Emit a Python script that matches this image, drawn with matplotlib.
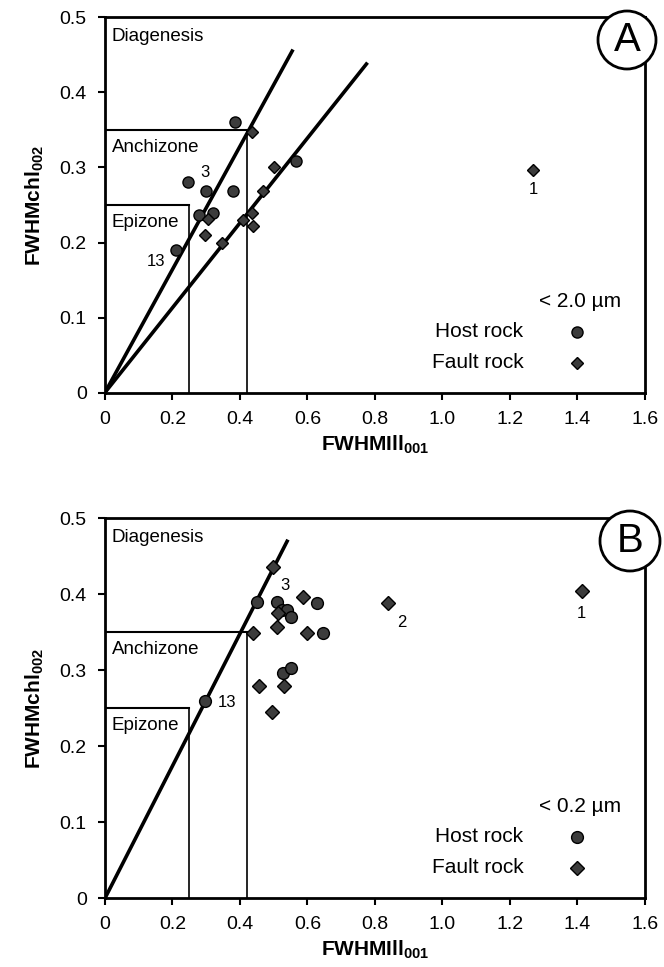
import numpy as np
import matplotlib
matplotlib.use("Agg")
import matplotlib.pyplot as plt
from matplotlib.patches import Circle

plt.rcParams.update({
    "font.family": ["Liberation Sans", "DejaVu Sans"],
    "mathtext.fontset": "custom",
    "mathtext.rm": "Liberation Sans",
    "mathtext.bf": "Liberation Sans:bold",
    "axes.linewidth": 2.0,
})

# ---- panel A (< 2.0 um) ----
A_host_x = [0.385, 0.565, 0.246, 0.300, 0.380, 0.280, 0.320, 0.210]
A_host_y = [0.360, 0.308, 0.280, 0.268, 0.268, 0.237, 0.240, 0.190]
A_fault_x = [0.435, 0.500, 0.468, 0.305, 0.296, 0.435, 0.410, 0.440, 0.347, 1.270]
A_fault_y = [0.347, 0.300, 0.268, 0.232, 0.210, 0.240, 0.230, 0.222, 0.200, 0.297]
A_labels = [("3", 0.296, 0.293), ("13", 0.150, 0.175), ("1", 1.271, 0.270)]
A_lines = [(0.82, 0.555), (0.565, 0.775)]   # (slope, end x) of regression lines

# ---- panel B (< 0.2 um) ----
B_host_x = [0.450, 0.628, 0.510, 0.525, 0.540, 0.553, 0.646, 0.528, 0.553, 0.296]
B_host_y = [0.390, 0.388, 0.390, 0.380, 0.379, 0.370, 0.349, 0.297, 0.303, 0.260]
B_fault_x = [0.498, 0.587, 0.513, 0.510, 0.440, 0.598, 0.457, 0.530, 0.495, 0.839, 1.413]
B_fault_y = [0.436, 0.397, 0.375, 0.357, 0.349, 0.349, 0.279, 0.280, 0.245, 0.388, 0.405]
B_labels = [("3", 0.533, 0.412), ("13", 0.362, 0.258), ("2", 0.880, 0.363), ("1", 1.413, 0.375)]
B_lines = [(0.87, 0.54)]

EPIZONE = 0.25      # illite limit / chlorite limit for epizone box
ANCH_X = 0.42       # anchizone illite limit
ANCH_Y = 0.35       # anchizone chlorite limit
XTICKS = [0, 0.2, 0.4, 0.6, 0.8, 1.0, 1.2, 1.4, 1.6]
XTICKLABELS = ["0", "0.2", "0.4", "0.6", "0.8", "1.0", "1.2", "1.4", "1.6"]
YTICKS = [0, 0.1, 0.2, 0.3, 0.4, 0.5]
YTICKLABELS = ["0", "0.1", "0.2", "0.3", "0.4", "0.5"]

MFC = "#3c3c3c"


def panel(ax, hx, hy, fx, fy, labels, lines, size_txt, ms):
    ax.set_xlim(0, 1.6)
    ax.set_ylim(0, 0.5)
    # metamorphic zone boundaries
    ax.plot([0, EPIZONE], [EPIZONE, EPIZONE], color="black", lw=1.5)
    ax.plot([EPIZONE, EPIZONE], [0, EPIZONE], color="black", lw=1.2)
    ax.plot([0, ANCH_X], [ANCH_Y, ANCH_Y], color="black", lw=1.5)
    ax.plot([ANCH_X, ANCH_X], [0, ANCH_Y], color="black", lw=1.2)
    for slope, xend in lines:
        ax.plot([0, xend], [0, slope * xend], color="black", lw=2.6, zorder=2)
    ax.plot(hx, hy, "o", ms=ms, mfc=MFC, mec="black", mew=1.0, zorder=3)
    ax.plot(fx, fy, "D", ms=ms - 1.5, mfc=MFC, mec="black", mew=1.0, zorder=3)
    for t, x, y in labels:
        ax.text(x, y, t, fontsize=12, ha="center", va="center")
    ax.text(0.02, 0.475, "Diagenesis", fontsize=13.5, va="center")
    ax.text(0.02, 0.327, "Anchizone", fontsize=13.5, va="center")
    ax.text(0.02, 0.227, "Epizone", fontsize=13.5, va="center")
    # key
    ax.text(1.53, 0.121, size_txt, fontsize=15, ha="right", va="center")
    ax.text(1.24, 0.081, "Host rock", fontsize=15, ha="right", va="center")
    ax.text(1.24, 0.040, "Fault rock", fontsize=15, ha="right", va="center")
    ax.plot([1.40], [0.081], "o", ms=ms, mfc=MFC, mec="black", mew=1.0)
    ax.plot([1.40], [0.040], "D", ms=ms - 1.5, mfc=MFC, mec="black", mew=1.0)

    ax.set_xticks(XTICKS)
    ax.set_xticklabels(XTICKLABELS)
    ax.set_yticks(YTICKS)
    ax.set_yticklabels(YTICKLABELS)
    ax.tick_params(direction="out", length=5, width=1.5, labelsize=14, pad=8)
    ax.set_xlabel(r"$\mathbf{FWHMIll_{001}}$", fontsize=15, labelpad=4)
    ax.set_ylabel(r"$\mathbf{FWHMchl_{002}}$", fontsize=15, labelpad=10)


fig = plt.figure(figsize=(6.64, 9.67), dpi=100)
axA = fig.add_axes([0.158, 0.594, 0.813, 0.388])
axB = fig.add_axes([0.158, 0.071, 0.813, 0.393])

panel(axA, A_host_x, A_host_y, A_fault_x, A_fault_y, A_labels, A_lines, "< 2.0 µm", 8)
panel(axB, B_host_x, B_host_y, B_fault_x, B_fault_y, B_labels, B_lines, "< 0.2 µm", 8.5)

# panel letters in circles over the top-right corners
for letter, cx, cy, r in [("A", 6.27, 9.27, 0.29), ("B", 6.30, 4.26, 0.30)]:
    c = Circle((cx, cy), r, transform=fig.dpi_scale_trans, fc="white", ec="black", lw=2.0, zorder=5)
    fig.add_artist(c)
    fig.text(cx / 6.64, cy / 9.67, letter, fontsize=29, ha="center", va="center", zorder=6)

fig.savefig("out.png", dpi=100)
